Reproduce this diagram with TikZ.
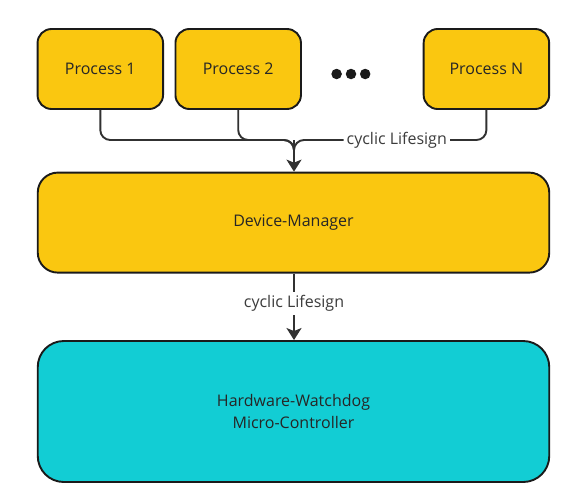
\documentclass[tikz,border=0pt]{standalone}
\usepackage{fontspec}
\setmainfont{Open Sans}
\usetikzlibrary{arrows.meta}
\definecolor{myyellow}{HTML}{FAC710}
\definecolor{mycyan}{HTML}{12CDD4}
\definecolor{myline}{HTML}{1A1A1A}
\definecolor{mytext}{HTML}{262626}
\tikzset{
  box/.style={draw=myline, line width=1.9pt, rounded corners=#1, inner sep=0pt, text=mytext, font=\fontsize{16}{22.5}\selectfont, align=center},
  ybox/.style={box=#1, fill=myyellow},
  cbox/.style={box=#1, fill=mycyan},
  pbox/.style={ybox=14pt, minimum width=125.5pt, minimum height=80pt},
  conn/.style={draw=myline!90, line width=1.9pt},
  lbl/.style={fill=white, text=mytext!90, font=\fontsize{16}{19}\selectfont, inner sep=3pt},
  dot/.style={circle, fill=myline, minimum size=10.5pt, inner sep=0pt},
  tip/.style={-{Stealth[length=12pt,width=15pt,inset=3pt]}}
}
\begin{document}
\begin{tikzpicture}[x=1pt,y=-1pt]
\useasboundingbox (0,0) rectangle (583,495);
\node[pbox] (p1) at (100.3,69) {Process 1};
\node[pbox] (p2) at (238.2,69) {Process 2};
\node[pbox] (pn) at (486.4,69) {Process N};
\node[dot] (d1) at (336.6,74) {};
\node[dot] (d2) at (351,74) {};
\node[dot] (d3) at (365.2,74) {};
\node[ybox=20pt, minimum width=511.5pt, minimum height=100pt] (dm) at (293.5,222.6) {Device-Manager};
\node[cbox=26pt, minimum width=511.5pt, minimum height=141pt] (hw) at (293.5,411.5) {Hardware-Watchdog\\Micro-Controller};
\coordinate (j) at (294,140);
\draw[conn, rounded corners=10pt] (p1.south) |- (j) -- ++(0,12);
\draw[conn, rounded corners=10pt] (p2.south) |- (j) -- ++(0,12);
\draw[conn, rounded corners=10pt] (pn.south) |- node[lbl, pos=0.733] (l1) {cyclic Lifesign} (j) -- ++(0,12);
\draw[conn, tip] (j) -- (j |- dm.north);
\draw[conn, tip] (dm.south -| j) -- node[lbl, pos=0.45] (l2) {cyclic Lifesign} (j |- hw.north);
\end{tikzpicture}
\end{document}
